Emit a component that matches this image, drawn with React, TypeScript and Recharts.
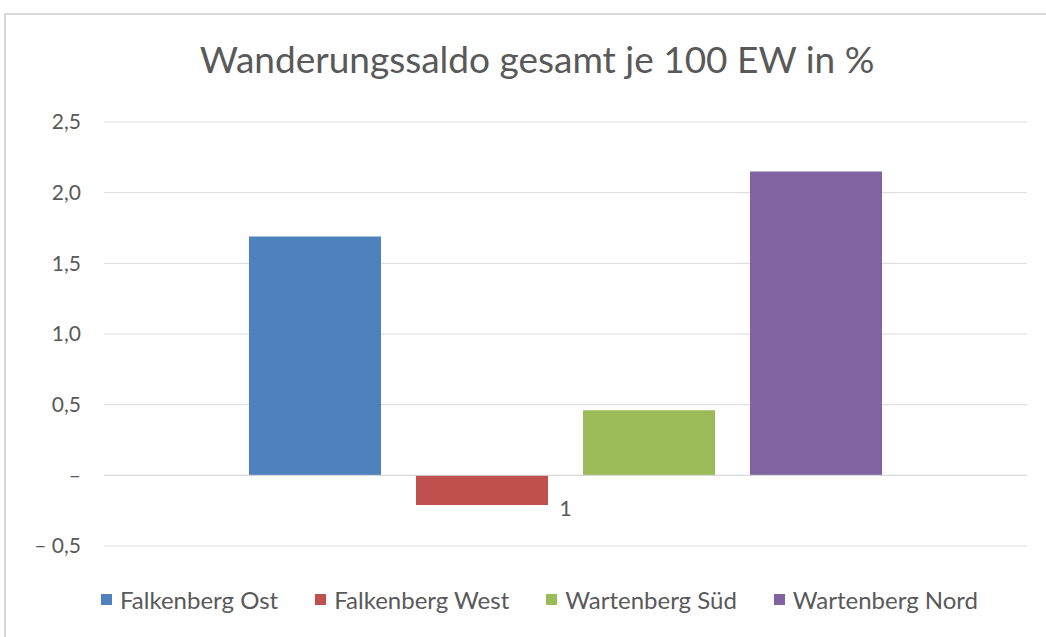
import { BarChart, Bar, XAxis, YAxis, CartesianGrid, ReferenceLine } from "recharts"

const categories = ["1"]
const seriesNames = ["Falkenberg Ost", "Falkenberg West", "Wartenberg Süd", "Wartenberg Nord"]
const seriesValues = [1.69, -0.21, 0.46, 2.15]
const seriesColors = ["#4f81bd", "#c0504d", "#9bbb59", "#8064a2"]
const yTicks = [-0.5, 0, 0.5, 1, 1.5, 2, 2.5]

const data = categories.map(c => {
  const row: Record<string, string | number> = { name: c }
  seriesNames.forEach((s, i) => { row[s] = seriesValues[i] })
  return row
})

const FONT = "Lato, 'Open Sans', sans-serif"
const TEXT = "#595959"

function fmt(v: number) {
  if (v === 0) return "–"
  const s = Math.abs(v).toFixed(1).replace(".", ",")
  return v < 0 ? `– ${s}` : s
}

function LegendBox() {
  return (
    <div style={{ position: "absolute", left: 0, top: 585, width: 1079, display: "flex", justifyContent: "center", gap: 37, fontFamily: FONT, fontSize: 24, color: TEXT }}>
      {seriesNames.map((s, i) => (
        <div key={s} style={{ display: "flex", alignItems: "center", gap: 8 }}>
          <span style={{ width: 11, height: 11, background: seriesColors[i], display: "inline-block" }} />
          <span>{s}</span>
        </div>
      ))}
    </div>
  )
}

export default function App() {
  return (
    <div style={{ position: "absolute", left: 0, top: 0, width: 1046, height: 637, overflow: "hidden", background: "#fff" }}>
      <style>{`body{margin:0;overflow:hidden}`}</style>
      <div style={{ position: "absolute", left: 4, top: 13, width: 1060, height: 640, border: "2px solid #d9d9d9", boxSizing: "border-box" }} />
      <div style={{ position: "absolute", left: 0, top: 36, width: 1074, textAlign: "center", fontFamily: FONT, fontSize: 37, color: TEXT }}>
        Wanderungssaldo gesamt je 100 EW in %
      </div>
      <div style={{ position: "absolute", left: 0, top: 0 }}>
        <BarChart
          width={1046}
          height={637}
          data={data}
          margin={{ top: 122, right: 19, bottom: 91, left: 0 }}
          barCategoryGap={145}
          barGap={35}
        >
          <CartesianGrid horizontal vertical={false} stroke="#d9d9d9" />
          <XAxis dataKey="name" hide />
          <YAxis
            domain={[-0.5, 2.5]}
            ticks={yTicks}
            width={104}
            axisLine={false}
            tickLine={false}
            tickSize={0}
            tickMargin={23}
            tickFormatter={fmt}
            tick={{ fill: TEXT, fontSize: 21, fontFamily: FONT }}
            interval={0}
          />
          <ReferenceLine
            y={0}
            stroke="#d9d9d9"
            label={{ value: categories[0], position: "bottom", offset: 26, fill: TEXT, fontSize: 21, fontFamily: FONT }}
          />
          {seriesNames.map((s, i) => (
            <Bar key={s} dataKey={s} fill={seriesColors[i]} isAnimationActive={false} />
          ))}
        </BarChart>
      </div>
      <LegendBox />
    </div>
  )
}
